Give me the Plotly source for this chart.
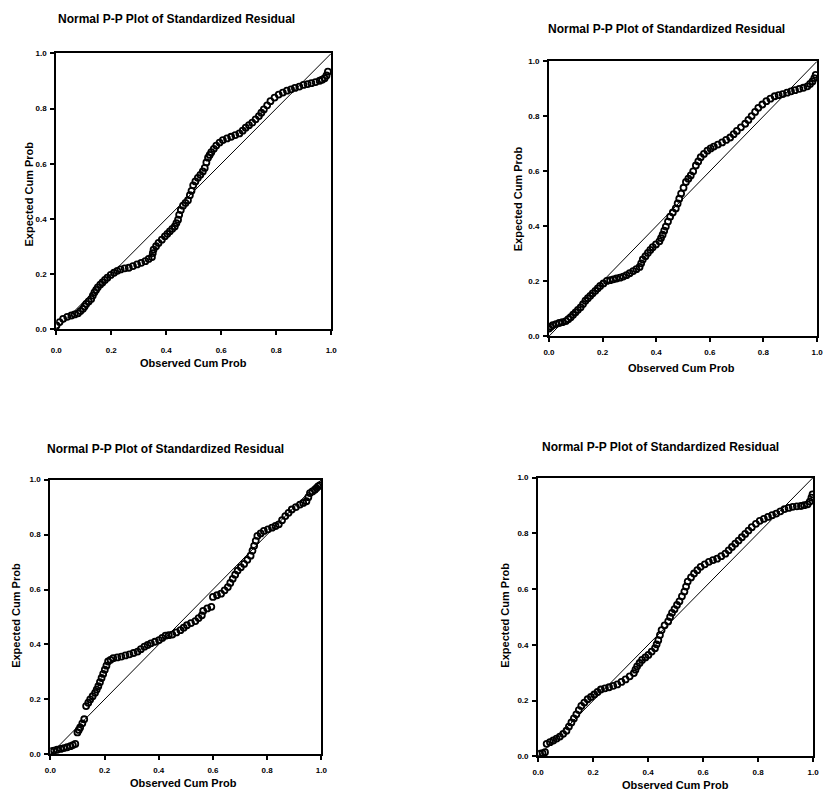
import plotly.graph_objects as go

# ---------------- data ----------------
p1_obs = [0.001, 0.012, 0.025, 0.04, 0.055, 0.067, 0.079, 0.088, 0.097, 0.103, 0.109, 0.118, 0.127,
          0.133, 0.139, 0.145, 0.151, 0.16, 0.168, 0.177, 0.186, 0.198, 0.21, 0.222, 0.234, 0.249,
          0.264, 0.279, 0.294, 0.309, 0.324, 0.336, 0.348, 0.351, 0.354, 0.363, 0.372, 0.384, 0.395,
          0.404, 0.413, 0.422, 0.431, 0.437, 0.443, 0.447, 0.453, 0.461, 0.47, 0.479, 0.486, 0.492,
          0.498, 0.506, 0.515, 0.524, 0.533, 0.54, 0.546, 0.552, 0.558, 0.564, 0.573, 0.582, 0.594,
          0.606, 0.621, 0.636, 0.651, 0.666, 0.678, 0.689, 0.701, 0.713, 0.725, 0.737, 0.746, 0.755,
          0.767, 0.779, 0.794, 0.809, 0.824, 0.839, 0.854, 0.868, 0.884, 0.899, 0.914, 0.928, 0.943,
          0.958, 0.967, 0.976, 0.983, 0.988]
p1_exp = [0.014, 0.026, 0.038, 0.045, 0.05, 0.054, 0.058, 0.066, 0.074, 0.083, 0.092, 0.101, 0.11,
          0.122, 0.134, 0.143, 0.152, 0.162, 0.17, 0.179, 0.187, 0.197, 0.205, 0.212, 0.217, 0.221,
          0.223, 0.229, 0.235, 0.241, 0.247, 0.255, 0.262, 0.276, 0.289, 0.301, 0.313, 0.325, 0.337,
          0.346, 0.355, 0.364, 0.373, 0.385, 0.397, 0.415, 0.432, 0.448, 0.458, 0.468, 0.486, 0.502,
          0.522, 0.536, 0.549, 0.56, 0.572, 0.585, 0.605, 0.622, 0.632, 0.642, 0.654, 0.666, 0.677,
          0.686, 0.692, 0.698, 0.704, 0.71, 0.72, 0.731, 0.74, 0.749, 0.761, 0.773, 0.785, 0.797,
          0.812, 0.827, 0.84, 0.851, 0.858, 0.865, 0.87, 0.875, 0.88, 0.886, 0.889, 0.892, 0.896,
          0.901, 0.905, 0.91, 0.92, 0.934]

p2_obs = [0.0, 0.007, 0.014, 0.026, 0.038, 0.05, 0.063, 0.072, 0.081, 0.09, 0.099, 0.108, 0.118,
          0.127, 0.136, 0.145, 0.154, 0.163, 0.173, 0.182, 0.191, 0.203, 0.216, 0.228, 0.24, 0.252,
          0.265, 0.277, 0.289, 0.301, 0.314, 0.326, 0.338, 0.344, 0.35, 0.36, 0.369, 0.378, 0.387,
          0.399, 0.412, 0.418, 0.424, 0.43, 0.436, 0.444, 0.452, 0.462, 0.473, 0.48, 0.486, 0.493,
          0.502, 0.511, 0.52, 0.529, 0.538, 0.548, 0.557, 0.566, 0.578, 0.591, 0.603, 0.615, 0.63,
          0.646, 0.661, 0.676, 0.689, 0.701, 0.716, 0.732, 0.744, 0.756, 0.769, 0.781, 0.796, 0.811,
          0.826, 0.842, 0.857, 0.872, 0.888, 0.903, 0.918, 0.934, 0.949, 0.964, 0.974, 0.983, 0.99,
          0.995]
p2_exp = [0.028, 0.034, 0.04, 0.044, 0.048, 0.051, 0.055, 0.062, 0.069, 0.078, 0.087, 0.096, 0.105,
          0.117, 0.129, 0.138, 0.147, 0.156, 0.165, 0.174, 0.183, 0.192, 0.201, 0.204, 0.207, 0.21,
          0.213, 0.217, 0.222, 0.229, 0.237, 0.244, 0.252, 0.265, 0.279, 0.291, 0.303, 0.314, 0.324,
          0.334, 0.345, 0.357, 0.369, 0.384, 0.399, 0.417, 0.435, 0.45, 0.465, 0.483, 0.5, 0.519,
          0.54, 0.561, 0.573, 0.585, 0.6, 0.621, 0.636, 0.651, 0.663, 0.675, 0.683, 0.69, 0.697,
          0.705, 0.714, 0.723, 0.735, 0.747, 0.76, 0.773, 0.787, 0.801, 0.816, 0.831, 0.843, 0.855,
          0.864, 0.873, 0.877, 0.881, 0.886, 0.891, 0.895, 0.9, 0.904, 0.909, 0.918, 0.927, 0.939,
          0.951]

p3_obs = [0.001, 0.013, 0.025, 0.038, 0.05, 0.062, 0.074, 0.083, 0.092, 0.1, 0.105, 0.11, 0.118,
          0.125, 0.132, 0.14, 0.147, 0.156, 0.165, 0.171, 0.177, 0.183, 0.189, 0.195, 0.201, 0.207,
          0.213, 0.222, 0.232, 0.247, 0.262, 0.277, 0.292, 0.307, 0.322, 0.334, 0.347, 0.359, 0.371,
          0.386, 0.401, 0.413, 0.425, 0.437, 0.45, 0.465, 0.48, 0.492, 0.504, 0.519, 0.535, 0.547,
          0.559, 0.564, 0.579, 0.594, 0.6, 0.615, 0.63, 0.643, 0.655, 0.664, 0.673, 0.682, 0.691,
          0.703, 0.715, 0.727, 0.739, 0.746, 0.752, 0.758, 0.764, 0.776, 0.788, 0.803, 0.818, 0.831,
          0.843, 0.855, 0.867, 0.879, 0.891, 0.906, 0.921, 0.933, 0.945, 0.952, 0.958, 0.967, 0.976,
          0.982, 0.988, 0.995]
p3_exp = [0.012, 0.014, 0.017, 0.02, 0.023, 0.026, 0.03, 0.034, 0.038, 0.08, 0.089, 0.098, 0.113,
          0.128, 0.176, 0.188, 0.2, 0.212, 0.224, 0.236, 0.248, 0.263, 0.278, 0.293, 0.308, 0.323,
          0.338, 0.344, 0.35, 0.353, 0.356, 0.36, 0.364, 0.369, 0.374, 0.383, 0.392, 0.398, 0.404,
          0.41, 0.416, 0.424, 0.432, 0.434, 0.436, 0.444, 0.452, 0.461, 0.47, 0.478, 0.485, 0.496,
          0.506, 0.522, 0.531, 0.537, 0.573, 0.579, 0.585, 0.597, 0.609, 0.624, 0.639, 0.654, 0.669,
          0.681, 0.693, 0.708, 0.723, 0.741, 0.759, 0.777, 0.795, 0.804, 0.813, 0.819, 0.825, 0.831,
          0.837, 0.852, 0.867, 0.879, 0.891, 0.9, 0.909, 0.915, 0.921, 0.936, 0.951, 0.957, 0.963,
          0.969, 0.975, 0.98]

p4_obs = [0.007, 0.016, 0.025, 0.031, 0.043, 0.055, 0.067, 0.079, 0.091, 0.103, 0.112, 0.121, 0.13,
          0.139, 0.148, 0.157, 0.168, 0.18, 0.192, 0.204, 0.216, 0.228, 0.243, 0.258, 0.273, 0.288,
          0.303, 0.318, 0.333, 0.348, 0.354, 0.36, 0.369, 0.378, 0.39, 0.401, 0.413, 0.425, 0.431,
          0.437, 0.443, 0.449, 0.46, 0.473, 0.48, 0.487, 0.496, 0.505, 0.514, 0.523, 0.532, 0.538,
          0.544, 0.556, 0.567, 0.579, 0.591, 0.606, 0.621, 0.636, 0.651, 0.666, 0.681, 0.693, 0.705,
          0.717, 0.729, 0.741, 0.753, 0.765, 0.777, 0.792, 0.806, 0.821, 0.836, 0.851, 0.866, 0.881,
          0.896, 0.911, 0.926, 0.941, 0.956, 0.968, 0.98, 0.988, 0.994, 0.998]
p4_exp = [0.01, 0.012, 0.015, 0.045, 0.051, 0.057, 0.064, 0.071, 0.081, 0.092, 0.107, 0.122, 0.136,
          0.151, 0.166, 0.181, 0.193, 0.205, 0.213, 0.222, 0.231, 0.24, 0.244, 0.248, 0.253, 0.258,
          0.267, 0.276, 0.287, 0.299, 0.311, 0.323, 0.335, 0.346, 0.355, 0.364, 0.376, 0.388, 0.402,
          0.417, 0.435, 0.453, 0.47, 0.484, 0.5, 0.515, 0.528, 0.543, 0.556, 0.574, 0.591, 0.609,
          0.627, 0.642, 0.656, 0.668, 0.68, 0.689, 0.698, 0.704, 0.709, 0.718, 0.727, 0.739, 0.751,
          0.763, 0.774, 0.786, 0.798, 0.81, 0.822, 0.834, 0.845, 0.852, 0.859, 0.865, 0.871, 0.879,
          0.887, 0.891, 0.895, 0.897, 0.898, 0.901, 0.904, 0.914, 0.928, 0.94]

diag = [0.0, 1.0]
tick_vals = [0.0, 0.2, 0.4, 0.6, 0.8, 1.0]
tick_text = ["0.0", "0.2", "0.4", "0.6", "0.8", "1.0"]

chart_title = "Normal P-P Plot of Standardized Residual"
x_title = "Observed Cum Prob"
y_title = "Expected Cum Prob"

series = [(p1_obs, p1_exp), (p2_obs, p2_exp), (p3_obs, p3_exp), (p4_obs, p4_exp)]

# ---------------- layout (pixel boxes of each panel) ----------------
W, H = 824, 796
# (left, right, top, bottom) of plotting area in px
boxes = [(51, 330, 50, 329), (551, 823, 58, 336), (45, 320, 481, 759), (540, 819, 479, 761)]
# title centre, x-title centre, y-title centre (px)
title_pos = [(173, 15), (670, 25), (162, 450), (664, 448)]
xt_pos = [(190, 363), (685, 368), (180, 788), (679, 790)]
yt_pos = [(23, 192), (519, 197), (10, 618), (506, 618)]
xtick_standoff = [8, 3, 3, 3]

FONT = "Arial, Liberation Sans, sans-serif"

fig = go.Figure()
layout = dict(width=W, height=H, margin=dict(l=0, r=0, t=0, b=0),
              paper_bgcolor="white", plot_bgcolor="white", showlegend=False,
              annotations=[])

for i, ((obs, exp), box) in enumerate(zip(series, boxes)):
    n = "" if i == 0 else str(i + 1)
    xa, ya = "x" + n, "y" + n
    l, r, t, b = box
    fig.add_trace(go.Scatter(x=diag, y=diag, mode="lines", xaxis=xa, yaxis=ya,
                             line=dict(color="black", width=1), hoverinfo="skip"))
    fig.add_trace(go.Scatter(x=obs, y=exp, mode="markers", xaxis=xa, yaxis=ya,
                             marker=dict(symbol="circle-open", size=6, color="black",
                                         line=dict(width=1.8, color="black"))))
    common = dict(range=[0, 1], tickvals=tick_vals, ticktext=tick_text, showgrid=False,
                  zeroline=False, showline=True, linecolor="black", linewidth=2, mirror=True,
                  ticks="outside", ticklen=4, tickwidth=1.5, tickcolor="black",
                  tickfont=dict(family=FONT, size=8, color="black", weight="bold"))
    layout["xaxis" + n] = dict(domain=[l / W, r / W], anchor=ya,
                               ticklabelstandoff=xtick_standoff[i], **common)
    layout["yaxis" + n] = dict(domain=[1 - b / H, 1 - t / H], anchor=xa,
                               ticklabelstandoff=2, **common)
    tx, ty = title_pos[i]
    layout["annotations"].append(dict(text=chart_title, x=tx / W, y=1 - ty / H, xref="paper",
                                      yref="paper", showarrow=False, xanchor="center",
                                      yanchor="middle",
                                      font=dict(family=FONT, size=12, color="black", weight="bold")))
    ax_, ay_ = xt_pos[i]
    layout["annotations"].append(dict(text=x_title, x=ax_ / W, y=1 - ay_ / H, xref="paper",
                                      yref="paper", showarrow=False, xanchor="center",
                                      yanchor="middle",
                                      font=dict(family=FONT, size=11, color="black", weight="bold")))
    bx, by = yt_pos[i]
    layout["annotations"].append(dict(text=y_title, x=bx / W, y=1 - by / H, xref="paper",
                                      yref="paper", showarrow=False, xanchor="center",
                                      yanchor="middle", textangle=-90,
                                      font=dict(family=FONT, size=11, color="black", weight="bold")))

fig.update_layout(**layout)
fig.write_html("out.html")
